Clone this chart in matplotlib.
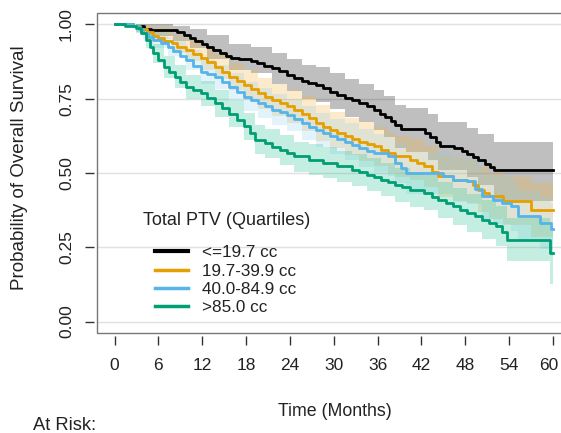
import matplotlib
matplotlib.use("Agg")
import matplotlib.pyplot as plt
import matplotlib.transforms as mtransforms
from matplotlib.patches import Rectangle

plt.rcParams['font.family'] = ['Liberation Sans', 'DejaVu Sans']

# ---- data ----
labels = ["<=19.7 cc", "19.7-39.9 cc", "40.0-84.9 cc", ">85.0 cc"]
colors = ["#000000", "#E69F00", "#56B4E9", "#009E73"]
x_ticks = [0, 6, 12, 18, 24, 30, 36, 42, 48, 54, 60]
y_ticks = [0.00, 0.25, 0.50, 0.75, 1.00]
y_ticklabels = ["0.00", "0.25", "0.50", "0.75", "1.00"]

# survival curves (step points)
t_q1 = [0, 2.5, 4, 5, 8.5, 9.5, 10.3, 11, 12, 12.7, 13.5, 14.5, 15.2, 16, 17, 18.7, 19.5,
        20.5, 21.6, 22.5, 23.6, 24.5, 25.6, 26.5, 27.6, 28.5, 29.5, 30.5, 31.5, 32.5, 33.5,
        34.5, 35.5, 36.3, 37, 37.8, 38.4, 39.2, 42.5, 43.2, 44, 44.5, 46.5, 47.5, 48.3, 49,
        49.8, 50.7, 51.4, 52, 60]
s_q1 = [1.0, 0.995, 0.985, 0.98, 0.975, 0.965, 0.955, 0.945, 0.935, 0.925, 0.915, 0.905,
        0.895, 0.888, 0.883, 0.877, 0.87, 0.86, 0.852, 0.843, 0.83, 0.82, 0.808, 0.802, 0.795,
        0.785, 0.774, 0.762, 0.752, 0.745, 0.735, 0.725, 0.713, 0.70, 0.69, 0.675, 0.66,
        0.648, 0.635, 0.622, 0.605, 0.592, 0.585, 0.575, 0.565, 0.555, 0.545, 0.53, 0.52,
        0.509, 0.509]

t_q2 = [0, 2.5, 3.5, 4.5, 5.3, 6, 6.8, 7.8, 8.6, 9.8, 10.8, 11.8, 12.7, 13.7, 14.7, 15.7,
        16.7, 17.7, 18.7, 19.7, 20.6, 21.6, 22.6, 23.6, 24.6, 25.6, 26.6, 27.6, 28.5, 29.5,
        30.5, 31.5, 32.5, 33.5, 34.5, 35.5, 36.5, 37.4, 38.4, 40.4, 41.4, 42.4, 43.4, 44.3,
        46.3, 48.3, 49, 49.8, 50.5, 51.3, 53.2, 57, 60]
s_q2 = [1.0, 0.995, 0.985, 0.975, 0.962, 0.955, 0.945, 0.936, 0.925, 0.914, 0.9, 0.886,
        0.872, 0.858, 0.84, 0.824, 0.81, 0.796, 0.782, 0.768, 0.757, 0.746, 0.735, 0.724,
        0.712, 0.70, 0.684, 0.668, 0.656, 0.645, 0.634, 0.623, 0.614, 0.606, 0.598, 0.59,
        0.578, 0.567, 0.556, 0.545, 0.534, 0.522, 0.505, 0.489, 0.478, 0.472, 0.458, 0.444,
        0.433, 0.422, 0.405, 0.374, 0.374]

t_q3 = [0, 2.5, 3.3, 3.9, 4.6, 5.3, 6.3, 7.3, 8, 9, 9.8, 10.8, 11.8, 12.7, 13.7, 14.7, 15.7,
        16.7, 17.7, 18.7, 19.7, 20.6, 21.6, 22.6, 23.6, 24.6, 25.6, 26.6, 27.6, 28.5, 29.5,
        30.5, 31.5, 32.5, 33.5, 34.5, 35.5, 37.4, 38.4, 39.2, 39.9, 45, 46.3, 48.3, 49.3,
        50.3, 51.8, 53, 54.2, 55.2, 58.2, 59.7, 60]
s_q3 = [1.0, 0.995, 0.985, 0.97, 0.958, 0.947, 0.936, 0.925, 0.91, 0.895, 0.88, 0.86, 0.84,
        0.832, 0.824, 0.807, 0.79, 0.774, 0.757, 0.746, 0.735, 0.724, 0.713, 0.705, 0.696,
        0.682, 0.668, 0.656, 0.645, 0.634, 0.623, 0.614, 0.606, 0.595, 0.584, 0.575, 0.567,
        0.556, 0.534, 0.517, 0.50, 0.49, 0.478, 0.472, 0.445, 0.422, 0.41, 0.398, 0.388,
        0.355, 0.332, 0.31, 0.31]

t_q4 = [0, 1.5, 2.9, 3.6, 4.3, 4.8, 5.3, 6, 6.8, 7.5, 8.3, 9, 9.8, 10.8, 11.8, 12.7, 13.7,
        14.7, 15.7, 16.7, 17.7, 18.5, 19.2, 20.6, 21.6, 22.6, 23.6, 24.6, 26.6, 28.5, 30.5,
        32.5, 33.5, 34.5, 35.5, 36.4, 37.4, 38.4, 39.4, 40.4, 42.4, 43.4, 44.3, 45.3, 46.3,
        47.3, 48.3, 49.3, 50.3, 51.3, 52.2, 53, 53.7, 59.6, 60]
s_q4 = [1.0, 0.995, 0.987, 0.97, 0.947, 0.925, 0.903, 0.88, 0.858, 0.84, 0.824, 0.807, 0.79,
        0.778, 0.768, 0.752, 0.735, 0.718, 0.70, 0.68, 0.657, 0.635, 0.612, 0.60, 0.589,
        0.578, 0.567, 0.556, 0.545, 0.534, 0.522, 0.511, 0.503, 0.494, 0.486, 0.478, 0.47,
        0.461, 0.452, 0.444, 0.433, 0.42, 0.41, 0.40, 0.388, 0.377, 0.366, 0.355, 0.343,
        0.332, 0.321, 0.30, 0.276, 0.232, 0.232]

# 95% confidence bands (step points)
bt_q1 = [0, 3, 4.8, 8, 10.3, 12.7, 15.7, 18.7, 21.6, 23.6, 25.6, 27.6, 29.5, 31.5, 33.5,
         35.5, 36.9, 38.4, 39.9, 42.9, 44.3, 48.3, 49.8, 52, 60]
hi_q1 = [1.0, 1.0, 1.0, 0.995, 0.985, 0.965, 0.935, 0.925, 0.905, 0.885, 0.865, 0.855, 0.835,
         0.815, 0.80, 0.78, 0.76, 0.73, 0.72, 0.70, 0.67, 0.65, 0.63, 0.606, 0.606]
lo_q1 = [1.0, 0.985, 0.96, 0.945, 0.92, 0.885, 0.845, 0.835, 0.80, 0.775, 0.75, 0.74, 0.715,
         0.69, 0.67, 0.645, 0.62, 0.585, 0.57, 0.545, 0.51, 0.485, 0.46, 0.405, 0.405]

bt_q2 = [0, 3, 4.8, 7.8, 9.8, 11.8, 13.7, 15.7, 17.7, 19.7, 21.6, 23.6, 25.6, 27.6, 29.5,
         31.5, 33.5, 35.5, 37.4, 38.4, 40.4, 42.4, 44.3, 46.3, 48.3, 49.8, 51.3, 53.2, 57, 60]
hi_q2 = [1.0, 1.0, 0.99, 0.965, 0.95, 0.925, 0.9, 0.87, 0.845, 0.82, 0.8, 0.78, 0.758, 0.728,
         0.706, 0.686, 0.67, 0.655, 0.634, 0.624, 0.614, 0.592, 0.56, 0.55, 0.545, 0.52, 0.5,
         0.485, 0.465, 0.465]
lo_q2 = [1.0, 0.975, 0.95, 0.905, 0.878, 0.847, 0.816, 0.778, 0.747, 0.716, 0.692, 0.668,
         0.642, 0.608, 0.584, 0.56, 0.542, 0.525, 0.5, 0.488, 0.476, 0.452, 0.418, 0.406,
         0.398, 0.368, 0.344, 0.325, 0.285, 0.285]

bt_q3 = [0, 3, 3.9, 5.3, 7.3, 9.8, 11.8, 13.7, 15.7, 17.7, 19.7, 21.6, 23.6, 25.6, 27.6, 29.5,
         31.5, 33.5, 35.5, 37.4, 38.4, 39.9, 46.3, 48.3, 50.3, 51.8, 54.2, 55.2, 58.2, 59.7, 60]
hi_q3 = [1.0, 1.0, 0.99, 0.975, 0.955, 0.915, 0.88, 0.865, 0.835, 0.805, 0.785, 0.765, 0.75,
         0.724, 0.703, 0.683, 0.668, 0.648, 0.632, 0.622, 0.602, 0.57, 0.552, 0.548, 0.5,
         0.49, 0.47, 0.44, 0.42, 0.4, 0.4]
lo_q3 = [1.0, 0.975, 0.95, 0.92, 0.895, 0.845, 0.8, 0.783, 0.745, 0.709, 0.685, 0.661, 0.642,
         0.612, 0.587, 0.563, 0.544, 0.52, 0.502, 0.49, 0.466, 0.43, 0.404, 0.396, 0.344,
         0.33, 0.306, 0.27, 0.245, 0.22, 0.22]

bt_q4 = [0, 2.9, 4.3, 5.3, 6.8, 8.3, 9.8, 11.8, 13.7, 15.7, 17.7, 19.2, 20.6, 22.6, 24.6, 26.6,
         28.5, 30.5, 32.5, 34.5, 36.4, 38.4, 40.4, 42.4, 44.3, 46.3, 48.3, 50.3, 52.2, 53.7,
         59.6, 60]
hi_q4 = [1.0, 1.0, 0.975, 0.935, 0.895, 0.862, 0.83, 0.81, 0.778, 0.745, 0.703, 0.66, 0.648,
         0.627, 0.606, 0.596, 0.586, 0.575, 0.565, 0.549, 0.534, 0.518, 0.502, 0.492, 0.47,
         0.45, 0.43, 0.41, 0.39, 0.35, 0.31, 0.31]
lo_q4 = [1.0, 0.97, 0.92, 0.87, 0.82, 0.785, 0.748, 0.725, 0.69, 0.654, 0.61, 0.564, 0.551,
         0.528, 0.505, 0.493, 0.482, 0.469, 0.457, 0.439, 0.422, 0.404, 0.386, 0.374, 0.35,
         0.326, 0.302, 0.278, 0.254, 0.205, 0.125, 0.125]

times = [t_q1, t_q2, t_q3, t_q4]
surv = [s_q1, s_q2, s_q3, s_q4]
band_t = [bt_q1, bt_q2, bt_q3, bt_q4]
upper = [hi_q1, hi_q2, hi_q3, hi_q4]
lower = [lo_q1, lo_q2, lo_q3, lo_q4]
fill_colors = ["#000000", "#F5B43C", "#8ACDF0", "#3CC8A0"]
fill_alpha = [0.25, 0.27, 0.24, 0.3]

# ---- figure ----
W, H = 561, 433
fig = plt.figure(figsize=(W / 100, H / 100), dpi=100)
ax = fig.add_axes([0.1729, 0.2298, 0.844, 0.7413])
ax.set_xlim(-2.4, 62.4)
ax.set_ylim(-0.04, 1.04)

for y in y_ticks:
    ax.axhline(y, color="#e0e0e0", lw=1.0, zorder=0)

for t, lo, hi, c, a in zip(band_t, lower, upper, fill_colors, fill_alpha):
    ax.fill_between(t, lo, hi, step="post", color=c, alpha=a, lw=0, zorder=1)

handles = []
for t, s, c, lab in zip(times, surv, colors, labels):
    ln, = ax.step(t, s, where="post", color=c, lw=2.0, zorder=3, label=lab)
    handles.append(ln)

# frame
ax.add_patch(Rectangle((0, 0), 1, 1, transform=ax.transAxes, fill=False,
                       edgecolor="#777777", lw=1.0, clip_on=False, zorder=5))
for sp in ["top", "right"]:
    ax.spines[sp].set_visible(False)
for sp in ["left", "bottom"]:
    ax.spines[sp].set_position(("outward", 2))
    ax.spines[sp].set_visible(False)

ax.set_xticks(x_ticks)
ax.set_xticklabels([str(v) for v in x_ticks])
ax.set_yticks(y_ticks)
ax.set_yticklabels(y_ticklabels, rotation=90, va="center")
ax.tick_params(axis="both", length=6.5, width=1.0, color="#333333",
               labelsize=12.5, labelcolor="#222222")
ax.tick_params(axis="x", pad=9)
ax.tick_params(axis="y", pad=8)

# keep the last x tick label inside the image (it sits at the right edge)
last_lab = ax.get_xticklabels()[-1]
last_lab.set_transform(last_lab.get_transform() +
                       mtransforms.ScaledTranslation(-4 / 100, 0, fig.dpi_scale_trans))

txtc = "#222222"
fig.text(20 / W, 1 - 168 / H, "Probability of Overall Survival", fontsize=13.5,
         color=txtc, rotation=90, ha="center", va="center")
fig.text(335 / W, 1 - 412 / H, "Time (Months)", fontsize=12.8, color=txtc,
         ha="center", va="center")
fig.text(33 / W, 1 - 426 / H, "At Risk:", fontsize=13.2, color=txtc,
         ha="left", va="center")

# legend
ax.text(15.4, (322 - 221) / 298, "Total PTV (Quartiles)", fontsize=13, color=txtc,
        ha="center", va="center", zorder=6)
leg = ax.legend(handles=handles, loc="upper left", bbox_to_anchor=(5.6, 0.257),
                bbox_transform=ax.transData, frameon=False, fontsize=12.3,
                handlelength=1.9, handletextpad=0.8, labelspacing=0.2,
                borderpad=0, borderaxespad=0)
for txt in leg.get_texts():
    txt.set_color(txtc)
for ln, lw in zip(leg.get_lines(), [3.0, 2.5, 2.5, 2.5]):
    ln.set_linewidth(lw)

fig.savefig("out.png", dpi=100)
